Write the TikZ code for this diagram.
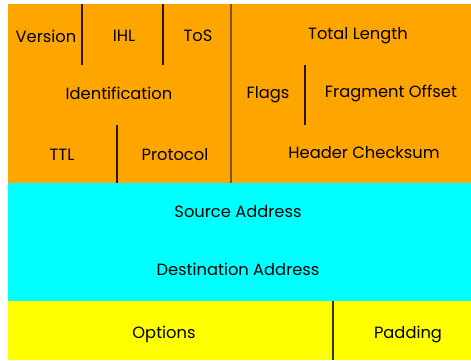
\documentclass[tikz,border=0pt]{standalone}
\usepackage{fontspec}
\setmainfont{Poppins}
\usetikzlibrary{positioning}

\definecolor{fixedpart}{HTML}{FFA500}
\definecolor{addrpart}{HTML}{00FFFF}
\definecolor{optpart}{HTML}{FFFF00}

\begin{document}
\begin{tikzpicture}[x = 1pt, y = -1pt,
    field/.style = {font = \fontsize{16.3}{19}\selectfont, inner sep = 0pt},
    sep/.style = {line width = 1.4pt, black!85!fixedpart},
    mainsep/.style = {line width = 2pt, fixedpart!50!black}]

        \useasboundingbox (0,0) rectangle (471,360);

        % Header bands: fixed part, addresses, options.
        \fill[fixedpart] (8,4) rectangle (471,183);
        \fill[addrpart] (8,183) rectangle (471,301);
        \fill[optpart] (8,301) rectangle (471,360);

        % Ends of the separators between the fields.
        \coordinate (s1a) at (82,4);   \coordinate (s1b) at (82,65);
        \coordinate (s2a) at (163,4);  \coordinate (s2b) at (163,65);
        \coordinate (s3a) at (231,4);  \coordinate (s3b) at (231,183);
        \coordinate (s4a) at (117,125); \coordinate (s4b) at (117,183);
        \coordinate (s5a) at (305,65); \coordinate (s5b) at (305,125);
        \coordinate (s6a) at (333,301); \coordinate (s6b) at (333,360);

        \draw[sep] (s1a) -- (s1b);
        \draw[sep] (s2a) -- (s2b);
        \draw[mainsep] (s3a) -- (s3b);
        \draw[sep] (s4a) -- (s4b);
        \draw[sep] (s5a) -- (s5b);
        \draw[sep, black!80!optpart] (s6a) -- (s6b);

        % Field names.
        \node[field] (version) at (46,36) {Version};
        \node[field] (ihl) at (124,36) {IHL};
        \node[field] (tos) at (198,36) {ToS};
        \node[field] (length) at (358,36) {Total Length};
        \node[field] (ident) at (119,93) {Identification};
        \node[field] (flags) at (268,95) {Flags};
        \node[field] (offset) at (391,93) {Fragment Offset};
        \node[field] (ttl) at (62,155) {TTL};
        \node[field] (proto) at (175,155) {Protocol};
        \node[field] (checksum) at (364,153) {Header Checksum};
        \node[field] (source) at (238,212) {Source Address};
        \node[field] (dest) at (238,269) {Destination Address};
        \node[field] (options) at (164,334) {Options};
        \node[field] (padding) at (408,334) {Padding};
    \end{tikzpicture}
\end{document}
